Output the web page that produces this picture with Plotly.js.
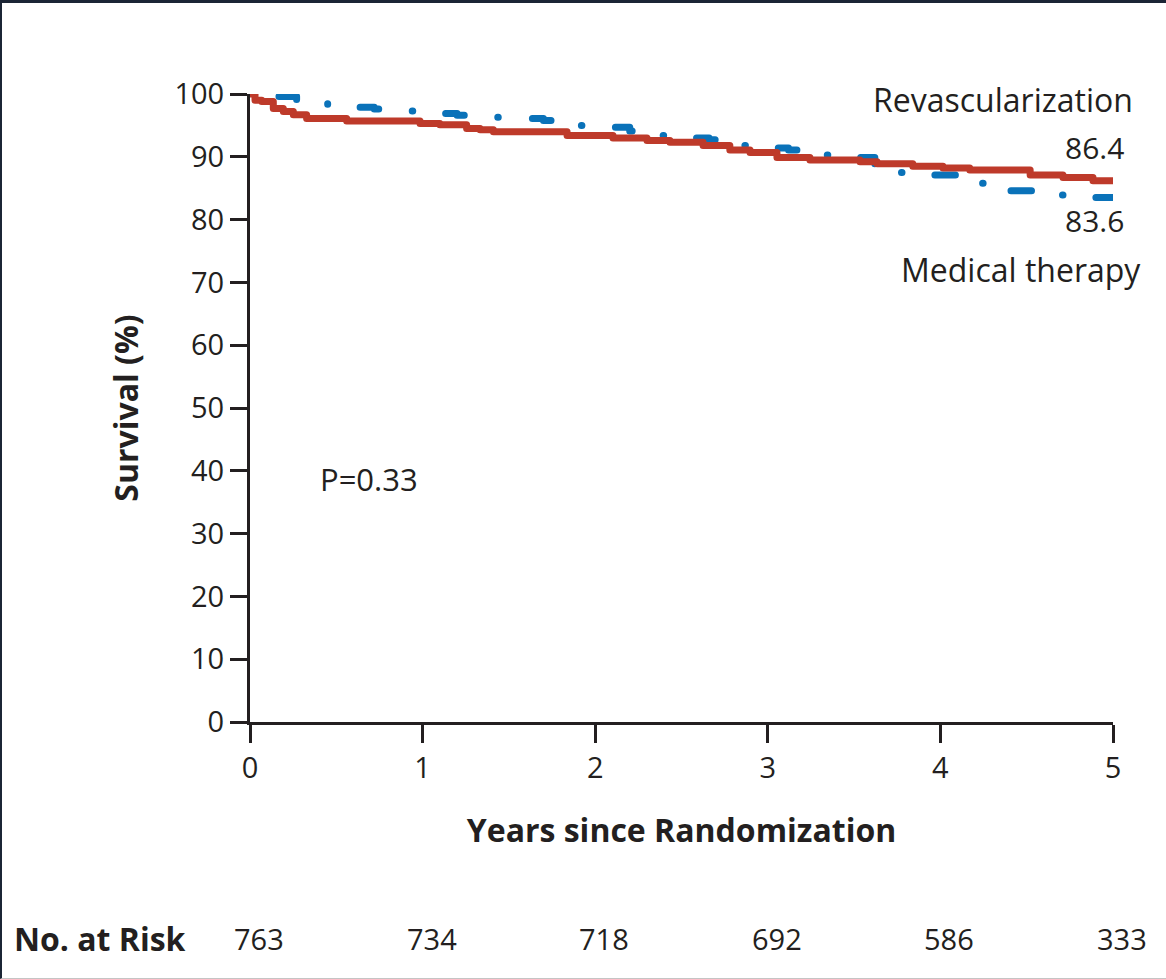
<!DOCTYPE html>
<html>
<head>
<meta charset="utf-8">
<script src="https://cdn.plot.ly/plotly-3.0.1.min.js"></script>
<style>
  html, body { margin: 0; padding: 0; background: #ffffff; }
  #wrap { position: relative; width: 1166px; height: 979px; overflow: hidden; }
  #chart { position: absolute; left: 0; top: 0; width: 1166px; height: 979px; }
  #frame { position: absolute; left: 0; top: 0; width: 1164px; height: 975px;
           border-top: 3px solid #1b2535; border-left: 2px solid #1b2535;
           border-bottom: 1px solid #c4c4c4; pointer-events: none; }
  .scatterlayer .js-line { stroke-linecap: round; stroke-linejoin: round; stroke-dashoffset: 4.4px; }
</style>
</head>
<body>
<div id="wrap">
  <div id="chart"></div>
  <div id="frame"></div>
</div>
<script>
// ---- data ----
const revascYears = [0, 0.029, 0.068, 0.135, 0.193, 0.251, 0.328, 0.56, 0.985, 1.10, 1.255, 1.333, 1.41,
  1.837, 2.103, 2.30, 2.433, 2.625, 2.78, 2.897, 3.053, 3.244, 3.36, 3.534, 3.633, 3.84, 4.015, 4.17,
  4.52, 4.71, 4.884, 5.0];
const revascSurv = [100, 99.0, 98.8, 97.7, 97.2, 96.7, 96.1, 95.7, 95.3, 95.1, 94.5, 94.3, 94.0,
  93.4, 93.0, 92.6, 92.3, 91.8, 91.1, 90.7, 89.9, 89.5, 89.5, 89.2, 88.9, 88.5, 88.2, 87.9,
  87.1, 86.7, 86.2, 86.2];

const medYears = [0, 0.15, 0.27, 0.45, 0.72, 0.78, 1.05, 1.20, 1.26, 1.55, 1.70, 1.76, 1.85,
  2.10, 2.20, 2.32, 2.58, 2.66, 2.72, 2.80, 3.02, 3.12, 3.18, 3.28, 3.45, 3.62, 3.75, 3.92,
  4.10, 4.22, 4.38, 4.68, 4.85, 5.0];
const medSurv = [100, 99.6, 99.0, 97.9, 97.6, 97.3, 96.9, 96.6, 96.3, 96.1, 95.8, 95.6, 95.0,
  94.7, 94.1, 93.4, 93.0, 92.7, 92.4, 91.8, 91.4, 91.1, 90.8, 90.3, 89.9, 88.5, 87.5, 87.1,
  86.6, 85.8, 84.6, 83.9, 83.5, 83.5];

const riskYears = [0, 1, 2, 3, 4, 5];
const atRisk = [763, 734, 718, 692, 586, 333];

const seriesNames = ['Revascularization', 'Medical therapy'];
const finalValues = ['86.4', '83.6'];
const pText = 'P=0.33';

const ink = '#231f20';
const red = '#be3a2a';
const blue = '#0a72b9';
const FONT = 'Open Sans, Noto Sans, sans-serif';

const traces = [
  {
    x: medYears, y: medSurv, type: 'scatter', mode: 'lines', name: seriesNames[1],
    line: { shape: 'hv', color: blue, width: 7, dash: '0.5px,35.4px,20.5px,35.4px' },
    hoverinfo: 'skip'
  },
  {
    x: revascYears, y: revascSurv, type: 'scatter', mode: 'lines', name: seriesNames[0],
    line: { shape: 'hv', color: red, width: 7 },
    hoverinfo: 'skip'
  }
];

const annotations = [
  { text: seriesNames[0], x: 5, y: 100, xshift: 22, yshift: -5, xref: 'x', yref: 'y', xanchor: 'right', yanchor: 'middle',
    showarrow: false, font: { family: FONT, size: 32, color: ink } },
  { text: finalValues[0], x: 5, y: 91.5, xshift: 13, xref: 'x', yref: 'y', xanchor: 'right', yanchor: 'middle',
    showarrow: false, font: { family: FONT, size: 30, color: ink } },
  { text: finalValues[1], x: 5, y: 79.8, xshift: 13, xref: 'x', yref: 'y', xanchor: 'right', yanchor: 'middle',
    showarrow: false, font: { family: FONT, size: 30, color: ink } },
  { text: seriesNames[1], x: 5, y: 72.0, xshift: 30, xref: 'x', yref: 'y', xanchor: 'right', yanchor: 'middle',
    showarrow: false, font: { family: FONT, size: 32, color: ink } },
  { text: pText, x: 0.394, y: 38.7, xref: 'x', yref: 'y', xanchor: 'left', yanchor: 'middle',
    showarrow: false, font: { family: FONT, size: 31, color: ink } },
  { text: 'No. at Risk', x: -0.2758, y: -0.344, xref: 'paper', yref: 'paper', xanchor: 'left', yanchor: 'middle',
    showarrow: false, font: { family: FONT, size: 32, color: ink, weight: 700 } }
];
riskYears.forEach(function (yr, i) {
  annotations.push({
    text: String(atRisk[i]), x: yr, y: -0.344, xref: 'x', yref: 'paper', xanchor: 'center', yanchor: 'middle',
    xshift: 9, showarrow: false, font: { family: FONT, size: 29, color: ink }
  });
});

const layout = {
  width: 1166, height: 979,
  margin: { l: 250, r: 53, t: 94, b: 257, pad: 0 },
  paper_bgcolor: '#ffffff', plot_bgcolor: '#ffffff',
  showlegend: false,
  font: { family: FONT, color: ink },
  xaxis: {
    range: [0, 5], tickvals: riskYears, ticks: 'outside', ticklen: 18, tickwidth: 3, tickcolor: ink,
    showline: true, linewidth: 3, linecolor: ink, showgrid: false, zeroline: false,
    tickfont: { family: FONT, size: 29, color: ink },
    title: { text: 'Years since Randomization', standoff: 35,
             font: { family: FONT, size: 32, color: ink, weight: 700 } },
    fixedrange: true
  },
  yaxis: {
    range: [0, 100], dtick: 10, tick0: 0, ticks: 'outside', ticklen: 17, tickwidth: 3, tickcolor: ink,
    showline: true, linewidth: 3, linecolor: ink, showgrid: false, zeroline: false,
    tickfont: { family: FONT, size: 29, color: ink },
    title: { text: 'Survival (%)', standoff: 27,
             font: { family: FONT, size: 32, color: ink, weight: 700 } },
    fixedrange: true
  },
  annotations: annotations
};

Plotly.newPlot('chart', traces, layout, { displayModeBar: false, staticPlot: true });
</script>
</body>
</html>
